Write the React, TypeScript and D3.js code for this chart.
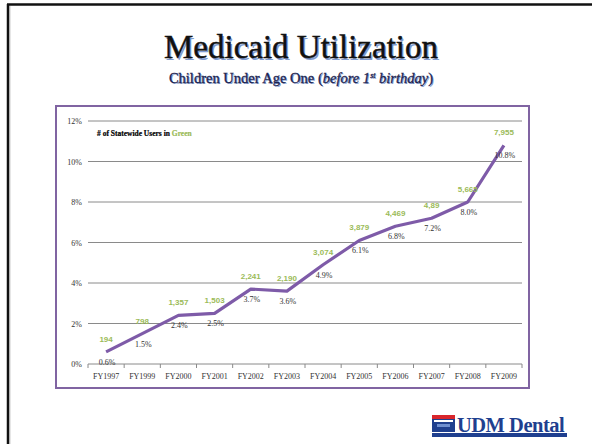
import React from "react";
import * as d3 from "d3";

const categories = ["FY1997","FY1999","FY2000","FY2001","FY2002","FY2003","FY2004","FY2005","FY2006","FY2007","FY2008","FY2009"];
const percentValues = [0.6,1.5,2.4,2.5,3.7,3.6,4.9,6.1,6.8,7.2,8.0,10.8];
const userLabels = ["194","798","1,357","1,503","2,241","2,190","3,074","3,879","4,469","4,89","5,665","7,955"];
const yTicks = [0,2,4,6,8,10,12];

const W = 592, H = 444;
const plot = { left: 88, right: 522, top: 121, bottom: 364 };

export default function App() {
  const x = d3.scaleBand<string>().domain(categories).range([plot.left, plot.right]);
  const y = d3.scaleLinear().domain([0, 12]).range([plot.bottom, plot.top]);
  const cx = (c: string) => (x(c) as number) + x.bandwidth() / 2;
  const pts = categories.map((c, i) => [cx(c), y(percentValues[i])] as [number, number]);
  const line = d3.line<[number, number]>().x(d => d[0]).y(d => d[1]);
  const serif = "'Liberation Serif', 'DejaVu Serif', serif";
  const sans = "'Liberation Sans', Arial, sans-serif";
  const boundaries = categories.map(c => x(c) as number).concat([plot.right]);

  return (
    <svg width={W} height={H} style={{ position: "absolute", left: 0, top: 0, background: "#fff" }}>
      {/* slide frame */}
      <line x1={7} y1={4.5} x2={W} y2={4.5} stroke="#111" strokeWidth={2.5} />
      <line x1={8} y1={4} x2={8} y2={H} stroke="#111" strokeWidth={2.5} />
      <line x1={9.8} y1={6} x2={9.8} y2={H} stroke="#aaa" strokeWidth={1} />

      {/* titles */}
      <g fontFamily={serif} textAnchor="middle">
        <text x={302.5} y={59.5} fontSize={33} fill="#7f9bd0">Medicaid Utilization</text>
        <text x={301} y={58} fontSize={33} fill="#111" stroke="#111" strokeWidth={0.5}>Medicaid Utilization</text>
        <text x={302} y={84} fontSize={14.5} fill="#7f9bd0">
          Children Under Age One (<tspan fontStyle="italic">before 1<tspan fontSize={8} dy={-5}>st</tspan><tspan dy={5}> birthday</tspan></tspan>)
        </text>
        <text x={301} y={83} fontSize={14.5} fill="#1c2450" stroke="#1c2450" strokeWidth={0.3}>
          Children Under Age One (<tspan fontStyle="italic">before 1<tspan fontSize={8} dy={-5}>st</tspan><tspan dy={5}> birthday</tspan></tspan>)
        </text>
      </g>

      {/* chart box */}
      <rect x={56} y={106} width={473} height={282} fill="#fff" stroke="#8064a2" strokeWidth={2} />

      {/* gridlines & y ticks */}
      {yTicks.map(t => (
        <g key={t}>
          <line x1={plot.left} x2={plot.right} y1={y(t)} y2={y(t)} stroke="#8a8a8a" strokeWidth={1} />
          <text x={82} y={y(t) + 3} fontSize={8} fontFamily={serif} fill="#333" textAnchor="end">{t}%</text>
        </g>
      ))}
      {/* x axis ticks */}
      {boundaries.map((b, i) => (
        <line key={i} x1={b} x2={b} y1={plot.bottom} y2={plot.bottom + 4} stroke="#8a8a8a" strokeWidth={1} />
      ))}
      {categories.map(c => (
        <text key={c} x={cx(c)} y={379} fontSize={8} fontFamily={serif} fill="#333" textAnchor="middle">{c}</text>
      ))}

      {/* legend note */}
      <text x={97} y={136} fontSize={7.5} fontFamily={serif} fontWeight="bold" fill="#000" stroke="#000" strokeWidth={0.2}>
        # of Statewide Users in <tspan fill="#9bbb59" stroke="#9bbb59">Green</tspan>
      </text>

      {/* line */}
      <path d={line(pts) || ""} fill="none" stroke="#7e5ba8" strokeWidth={3.2} strokeLinejoin="round" />

      {/* labels */}
      {pts.map((p, i) => (
        <g key={i}>
          <text x={p[0]} y={p[1] - 10} fontSize={8} fontFamily={sans} fontWeight="bold" fill="#9bbb59" textAnchor="middle">{userLabels[i]}</text>
          <text x={p[0] + 1} y={p[1] + 13} fontSize={8} fontFamily={serif} fill="#333" textAnchor="middle">{percentValues[i].toFixed(1)}%</text>
        </g>
      ))}

      {/* logo */}
      <g>
        <rect x={432} y={415} width={23} height={17} fill="#1f3f8f" />
        <rect x={432} y={415} width={23} height={4} fill="#d9262c" />
        <rect x={434} y={420} width={19} height={2} fill="#fff" />
        <rect x={437} y={424} width={13} height={3} fill="#6f8fd0" />
        <text x={457} y={432} fontSize={20.5} fontFamily={serif} fontWeight="bold" fill="#1f3f8f" letterSpacing={-0.5}>UDM Dental</text>
        <rect x={432} y={433} width={135} height={4} fill="#1f3f8f" />
      </g>
    </svg>
  );
}
